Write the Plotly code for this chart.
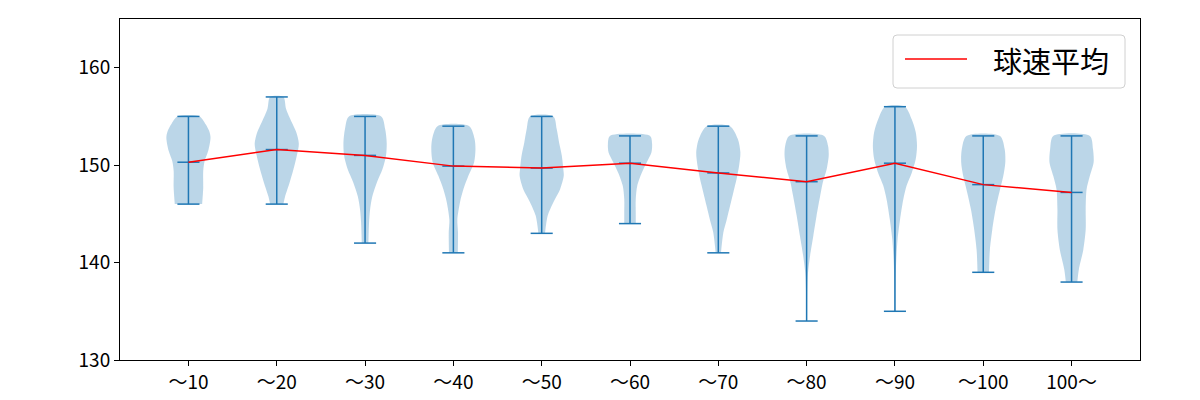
import plotly.graph_objects as go

categories = ["～10", "～20", "～30", "～40", "～50", "～60", "～70", "～80", "～90", "～100", "100～"]
positions = [1, 2, 3, 4, 5, 6, 7, 8, 9, 10, 11]
mins = [146, 146, 142, 141, 143, 144, 141, 134, 135, 139, 138]
maxs = [155, 157, 155, 154, 155, 153, 154, 153, 156, 153, 153]
medians = [150.3, 151.6, 151.0, 149.9, 149.7, 150.2, 149.2, 148.3, 150.2, 148.0, 147.2]
means = [150.3, 151.6, 151.0, 149.9, 149.7, 150.2, 149.2, 148.3, 150.2, 148.0, 147.2]
legend_label = "球速平均"

# density profiles (speed level -> relative width)
levels_1 = [146, 147.7, 149.4, 150.4, 151.5, 152.85, 153.5, 154.2, 155]
dens_1 = [0.62, 0.67, 0.67, 0.73, 0.9, 1.0, 0.94, 0.78, 0.5]
levels_2 = [146, 146.8, 148.2, 149.6, 151.0, 152.2, 153.4, 154.4, 155.8, 157]
dens_2 = [0.3, 0.38, 0.58, 0.76, 0.91, 1.0, 0.88, 0.68, 0.42, 0.3]
levels_3 = [142, 144.1, 145.5, 146.8, 148.2, 149.6, 151.0, 152.3, 153.7, 155]
dens_3 = [0.15, 0.18, 0.23, 0.33, 0.53, 0.79, 0.95, 0.98, 0.91, 0.73]
levels_4 = [141, 143.1, 144.4, 146.2, 147.5, 148.9, 150.3, 151.65, 152.7, 154]
dens_4 = [0.2, 0.21, 0.18, 0.3, 0.45, 0.68, 0.94, 1.0, 0.96, 0.72]
levels_5 = [143, 144.8, 146.2, 147.5, 148.9, 149.6, 151.0, 152.3, 153.7, 155]
dens_5 = [0.15, 0.27, 0.53, 0.83, 1.0, 0.98, 0.91, 0.79, 0.68, 0.53]
levels_6 = [144, 145.1, 146.5, 147.9, 149.2, 150.3, 151.3, 152.2, 153]
dens_6 = [0.26, 0.26, 0.26, 0.33, 0.53, 0.76, 0.97, 1.0, 0.91]
levels_7 = [141, 143.1, 144.4, 145.8, 147.2, 148.6, 149.9, 151.3, 152.7, 154]
dens_7 = [0.12, 0.23, 0.38, 0.53, 0.68, 0.83, 0.94, 1.0, 0.88, 0.53]
levels_8 = [134, 137.2, 138.9, 140.6, 142.7, 144.8, 146.8, 148.2, 149.6, 151.0, 152.0, 153]
dens_8 = [0.02, 0.03, 0.06, 0.15, 0.3, 0.45, 0.61, 0.73, 0.91, 1.0, 0.97, 0.79]
levels_9 = [135, 138.2, 140.3, 142.4, 144.4, 146.5, 147.9, 149.2, 150.6, 152.0, 153.4, 154.7, 156]
dens_9 = [0.02, 0.03, 0.06, 0.12, 0.23, 0.38, 0.53, 0.76, 0.94, 1.0, 0.94, 0.76, 0.45]
levels_10 = [139, 141.3, 143.4, 145.5, 147.5, 148.9, 150.3, 151.65, 153]
dens_10 = [0.26, 0.3, 0.41, 0.56, 0.76, 0.91, 1.0, 0.97, 0.76]
levels_11 = [138, 139.3, 141.3, 143.4, 145.5, 147.5, 148.9, 150.3, 151.65, 153]
dens_11 = [0.26, 0.33, 0.53, 0.64, 0.64, 0.68, 0.83, 1.0, 0.97, 0.83]

all_levels = [levels_1, levels_2, levels_3, levels_4, levels_5, levels_6,
              levels_7, levels_8, levels_9, levels_10, levels_11]
all_dens = [dens_1, dens_2, dens_3, dens_4, dens_5, dens_6,
            dens_7, dens_8, dens_9, dens_10, dens_11]

BLUE = "#1f77b4"
HALF = 0.25   # half of violin width (widths=0.5)
CAP = 0.125

W, H = 1200, 400
ML, MR, MT, MB = 120, 60, 19, 40
PW, PH = W - ML - MR, H - MT - MB


def px_x(px):
    return (px - ML) / PW


def px_y(py):
    return (H - MB - py) / PH


fig = go.Figure()

for p, lv, dn in zip(positions, all_levels, all_dens):
    xs = [p + HALF * d for d in dn] + [p - HALF * d for d in reversed(dn)]
    ys = list(lv) + list(reversed(lv))
    fig.add_trace(go.Scatter(
        x=xs, y=ys, mode="lines", fill="toself",
        fillcolor="rgba(31,119,180,0.3)",
        line=dict(color="rgba(31,119,180,0)", width=0, shape="spline", smoothing=0.8),
        showlegend=False, hoverinfo="skip"))

# bars, caps, medians
bx, by = [], []
for p, lo, hi, md in zip(positions, mins, maxs, medians):
    bx += [p, p, None, p - CAP, p + CAP, None, p - CAP, p + CAP, None, p - CAP, p + CAP, None]
    by += [lo, hi, None, lo, lo, None, hi, hi, None, md, md, None]
fig.add_trace(go.Scatter(x=bx, y=by, mode="lines", line=dict(color=BLUE, width=1.5),
                         showlegend=False, hoverinfo="skip"))

fig.add_trace(go.Scatter(x=positions, y=means, mode="lines",
                         line=dict(color="red", width=1.5), name=legend_label,
                         showlegend=False))

# matplotlib-style legend box (rounded frame, sample line, label)
bx0, bx1, by0, by1, r = px_x(893), px_x(1125), px_y(88), px_y(35), 4
rx, ry = r / PW, r / PH
path = (f"M {bx0+rx},{by0} L {bx1-rx},{by0} Q {bx1},{by0} {bx1},{by0+ry} "
        f"L {bx1},{by1-ry} Q {bx1},{by1} {bx1-rx},{by1} L {bx0+rx},{by1} "
        f"Q {bx0},{by1} {bx0},{by1-ry} L {bx0},{by0+ry} Q {bx0},{by0} {bx0+rx},{by0} Z")
fig.add_shape(type="path", path=path, xref="paper", yref="paper",
              fillcolor="rgba(255,255,255,0.8)", line=dict(color="#d0d0d0", width=1))
fig.add_shape(type="line", xref="paper", yref="paper",
              x0=px_x(905), x1=px_x(967), y0=px_y(59), y1=px_y(59),
              line=dict(color="red", width=1.5))
fig.add_annotation(x=px_x(991), y=px_y(60), xref="paper", yref="paper",
                   text=legend_label, showarrow=False, xanchor="left", yanchor="middle",
                   font=dict(size=29, color="black"))

fig.update_layout(
    width=W, height=H,
    margin=dict(l=ML, r=MR, t=MT, b=MB, autoexpand=False),
    paper_bgcolor="white", plot_bgcolor="white",
    font=dict(family="Noto Sans CJK JP", size=19, color="black"),
    showlegend=False,
)
fig.update_xaxes(range=[0.225, 11.775], tickvals=positions, ticktext=categories,
                 showgrid=False, zeroline=False, showline=True, linecolor="black",
                 linewidth=1, mirror=True, ticks="outside", ticklen=5, tickcolor="black",
                 automargin=False)
fig.update_yaxes(range=[130, 165], tickvals=[130, 140, 150, 160],
                 showgrid=False, zeroline=False, showline=True, linecolor="black",
                 linewidth=1, mirror=True, ticks="outside", ticklen=5, tickcolor="black",
                 automargin=False)

fig.write_html("out.html")
